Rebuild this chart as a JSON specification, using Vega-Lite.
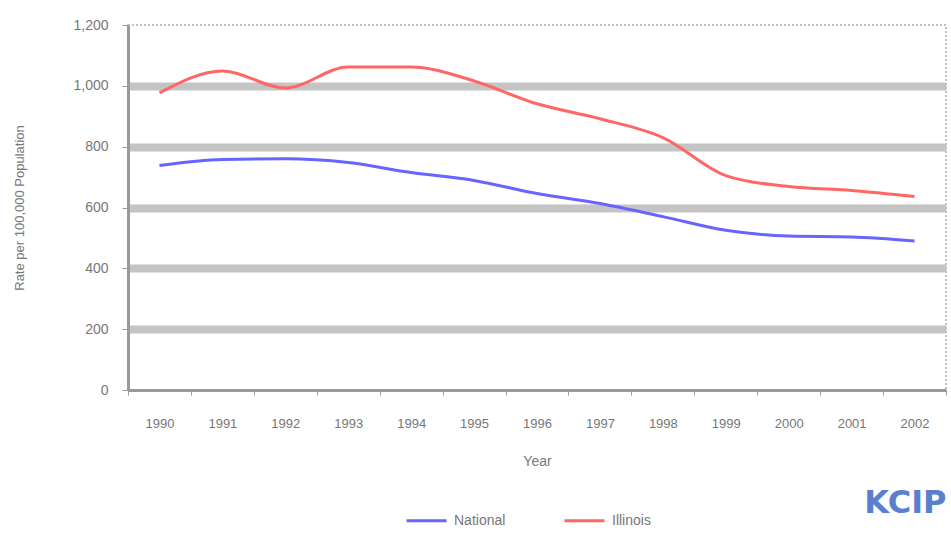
{
  "$schema": "https://vega.github.io/schema/vega-lite/v6.json",
  "autosize": "none",
  "width": 818,
  "height": 365,
  "padding": {"left": 128, "top": 25, "right": 5, "bottom": 144},
  "background": "white",
  "config": {
    "font": "Liberation Sans",
    "view": {"stroke": "#aaaaaa", "strokeDash": [2, 2], "strokeWidth": 1.5}
  },
  "title": {
    "text": "KCIP",
    "orient": "bottom",
    "anchor": "end",
    "offset": -40,
    "color": "#5a7fcf",
    "fontSize": 32,
    "fontWeight": "bold",
    "font": "DejaVu Sans"
  },
  "data": {
    "values": [
      {"year": "1990", "series": "National", "rate": 738},
      {"year": "1991", "series": "National", "rate": 758},
      {"year": "1992", "series": "National", "rate": 760},
      {"year": "1993", "series": "National", "rate": 748},
      {"year": "1994", "series": "National", "rate": 715},
      {"year": "1995", "series": "National", "rate": 689},
      {"year": "1996", "series": "National", "rate": 646},
      {"year": "1997", "series": "National", "rate": 613},
      {"year": "1998", "series": "National", "rate": 570},
      {"year": "1999", "series": "National", "rate": 525},
      {"year": "2000", "series": "National", "rate": 506},
      {"year": "2001", "series": "National", "rate": 503},
      {"year": "2002", "series": "National", "rate": 490},
      {"year": "1990", "series": "Illinois", "rate": 977},
      {"year": "1991", "series": "Illinois", "rate": 1049},
      {"year": "1992", "series": "Illinois", "rate": 993},
      {"year": "1993", "series": "Illinois", "rate": 1062},
      {"year": "1994", "series": "Illinois", "rate": 1062},
      {"year": "1995", "series": "Illinois", "rate": 1016},
      {"year": "1996", "series": "Illinois", "rate": 941},
      {"year": "1997", "series": "Illinois", "rate": 892},
      {"year": "1998", "series": "Illinois", "rate": 830},
      {"year": "1999", "series": "Illinois", "rate": 705},
      {"year": "2000", "series": "Illinois", "rate": 669},
      {"year": "2001", "series": "Illinois", "rate": 656},
      {"year": "2002", "series": "Illinois", "rate": 636}
    ]
  },
  "mark": {"type": "line", "strokeWidth": 3, "interpolate": "monotone"},
  "encoding": {
    "x": {
      "field": "year",
      "type": "ordinal",
      "scale": {"type": "band", "paddingInner": 0, "paddingOuter": 0},
      "axis": {
        "title": "Year",
        "titleFontSize": 14,
        "titleFontWeight": "normal",
        "titleColor": "#777777",
        "titlePadding": 24,
        "labelAngle": 0,
        "labelFontSize": 13,
        "labelColor": "#777777",
        "labelPadding": 22,
        "tickBand": "extent",
        "tickColor": "#999999",
        "tickSize": 5,
        "domainColor": "#999999",
        "domainWidth": 3,
        "grid": false
      }
    },
    "y": {
      "field": "rate",
      "type": "quantitative",
      "scale": {"domain": [0, 1200], "nice": false},
      "axis": {
        "title": "Rate per 100,000 Population",
        "titleFontSize": 13,
        "titleFontWeight": "normal",
        "titleColor": "#777777",
        "titlePadding": 46,
        "values": [0, 200, 400, 600, 800, 1000, 1200],
        "format": ",d",
        "labelFontSize": 14,
        "labelColor": "#777777",
        "labelPadding": 14,
        "tickColor": "#999999",
        "tickSize": 6,
        "domainColor": "#999999",
        "domainWidth": 3,
        "grid": true,
        "gridColor": "#c4c4c4",
        "gridWidth": {"condition": {"test": "datum.value == 0 || datum.value == 1200", "value": 0}, "value": 8}
      }
    },
    "color": {
      "field": "series",
      "type": "nominal",
      "scale": {"domain": ["National", "Illinois"], "range": ["#6666ff", "#ff6666"]},
      "legend": {
        "title": null,
        "orient": "none",
        "legendX": 277,
        "legendY": 474,
        "direction": "horizontal",
        "symbolType": "stroke",
        "symbolSize": 1600,
        "symbolStrokeWidth": 3,
        "labelFontSize": 14,
        "labelColor": "#777777",
        "columnPadding": 52,
        "labelOffset": 6
      }
    }
  }
}
